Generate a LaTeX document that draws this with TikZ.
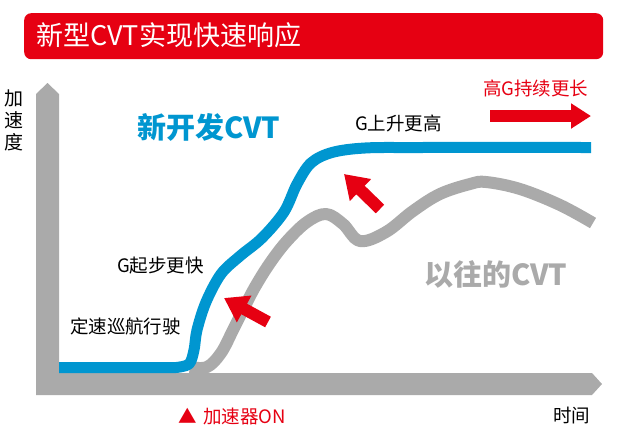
\documentclass[tikz,border=0pt]{standalone}
\usepackage{fontspec}
\setmainfont{Noto Sans CJK SC}
\usetikzlibrary{arrows.meta}
\definecolor{cvtred}{RGB}{230,0,18}
\definecolor{cvtblue}{RGB}{0,150,208}
\definecolor{cvtgray}{RGB}{170,170,170}
\tikzset{
  lbl/.style={inner sep=0pt, outer sep=0pt, anchor=west, font=\fontsize{18.5}{22}\selectfont},
  bigbl/.style={inner sep=0pt, outer sep=0pt, anchor=west, font=\fontsize{29}{32}\selectfont\bfseries},
  axisfill/.style={fill=cvtgray, draw=none},
  curveline/.style={line width=12pt, line join=round},
  blockarrow/.style={cvtred, line width=12pt, -{Triangle[width=29pt,length=23pt]}},
  rightarrow/.style={cvtred, line width=12pt, -{Triangle[width=24pt,length=20pt]}},
}
\begin{document}
\begin{tikzpicture}[x=1pt,y=-1pt]
\useasboundingbox (0,0) rectangle (619,432);
% title bar
\node (titlebar) [fill=cvtred, rounded corners=7pt, minimum width=579pt, minimum height=46pt, inner sep=0pt, anchor=north west] at (24,13) {};
\node (title) [inner sep=0pt, anchor=west, text=white, font=\fontsize{27}{30}\selectfont] at (36,35.5) {新型CVT实现快速响应};
% axes
\fill[axisfill] (36,395) -- (36,94) -- (47.5,83) -- (59,94) -- (59,373) -- (592,373) -- (602,384) -- (592,395) -- cycle;
% old CVT curve
\draw[curveline, cvtgray] plot[smooth, tension=0.6] coordinates {(190,367) (207,367) (221,353) (233,330) (243,310) (255,287) (270,263) (287,241) (307,222) (326,214) (343,224) (360,241) (386,232) (413,211) (440,194) (470,184) (486,182) (520,189) (560,205) (593,223)};
% new CVT curve
\draw[curveline, line width=11pt, cvtblue] (59,367.5) -- plot[smooth, tension=0.55] coordinates {(176,367.5) (189,364) (194,350) (197,330) (206,302) (221,274) (240,256) (262,238) (284,212) (297,184) (311,163) (332,152.5) (365,148) (420,147.5) (591,147.5)};
% red arrows
\coordinate (a1s) at (268,322);
\coordinate (a1e) at (224,298);
\draw[blockarrow] (a1s) -- (a1e);
\coordinate (a2s) at (380,209);
\coordinate (a2e) at (344,174);
\draw[blockarrow] (a2s) -- (a2e);
\coordinate (a3s) at (490,116);
\coordinate (a3e) at (591,116);
\draw[rightarrow] (a3s) -- (a3e);
% labels
\node (yaxis) [inner sep=0pt, align=center, font=\fontsize{19}{22}\selectfont] at (14.5,120) {加\\速\\度};
\node (newcvt) [bigbl, text=cvtblue] at (137,127.5) {新开发CVT};
\node (oldcvt) [bigbl, text=cvtgray] at (424,274) {以往的CVT};
\node (gup) [lbl] at (355,123) {G上升更高};
\node (gstart) [lbl] at (117,266) {G起步更快};
\node (cruise) [lbl] at (70,326.5) {定速巡航行驶};
\node (highg) [lbl, text=cvtred] at (483,88.5) {高G持续更长};
\node (accel) [lbl, text=cvtred] at (178,416.5) {▲\hspace{7pt}加速器ON};
\node (time) [lbl] at (553,416) {时间};
\end{tikzpicture}
\end{document}
